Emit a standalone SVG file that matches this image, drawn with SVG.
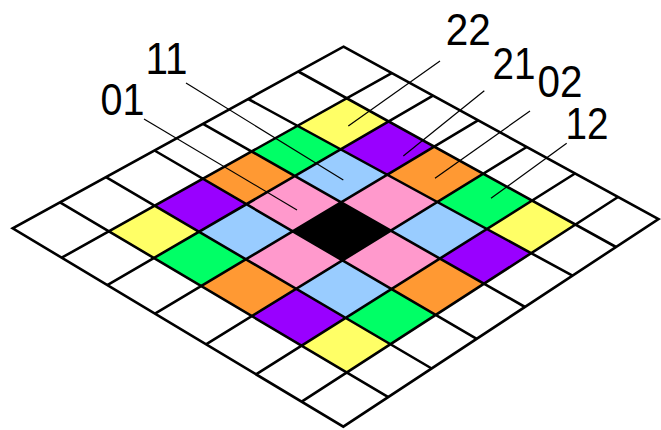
<svg xmlns="http://www.w3.org/2000/svg" width="661" height="430" viewBox="0 0 661 430">
<style>
.y{fill:#FFFF66}.g{fill:#00FF66}.p{fill:#9900FF}.o{fill:#FF9933}.b{fill:#99CCFF}.k{fill:#000000}.pk{fill:#FF99CC}
.grid{fill:none;stroke:#000;stroke-width:2.6;stroke-linejoin:miter}
.lead{fill:none;stroke:#000;stroke-width:1.2}
.lbl{font-family:"Liberation Sans",Arial,sans-serif;font-size:44px;fill:#000;text-anchor:middle}
</style>
<rect width="661" height="430" fill="#fff"/>
<g id="cells">
<polygon class="y" points="346.7,98.2 388.7,121.4 340.7,149.4 297.5,125.8"/>
<polygon class="p" points="388.7,121.4 434.1,146.5 387.2,174.7 340.7,149.4"/>
<polygon class="o" points="434.1,146.5 483.3,173.7 437.3,202.0 387.2,174.7"/>
<polygon class="g" points="483.3,173.7 532.0,200.6 486.8,229.0 437.3,202.0"/>
<polygon class="y" points="532.0,200.6 575.4,224.6 531.2,253.2 486.8,229.0"/>
<polygon class="g" points="297.5,125.8 340.7,149.4 294.8,176.0 251.6,151.5"/>
<polygon class="b" points="340.7,149.4 387.2,174.7 341.0,202.3 294.8,176.0"/>
<polygon class="pk" points="387.2,174.7 437.3,202.0 390.8,230.6 341.0,202.3"/>
<polygon class="b" points="437.3,202.0 486.8,229.0 439.9,258.6 390.8,230.6"/>
<polygon class="p" points="486.8,229.0 531.2,253.2 484.1,283.7 439.9,258.6"/>
<polygon class="o" points="251.6,151.5 294.8,176.0 246.4,204.2 202.8,178.7"/>
<polygon class="pk" points="294.8,176.0 341.0,202.3 292.7,231.3 246.4,204.2"/>
<polygon class="k" points="341.0,202.3 390.8,230.6 342.4,260.3 292.7,231.3"/>
<polygon class="pk" points="390.8,230.6 439.9,258.6 391.5,289.0 342.4,260.3"/>
<polygon class="o" points="439.9,258.6 484.1,283.7 435.8,314.9 391.5,289.0"/>
<polygon class="p" points="202.8,178.7 246.4,204.2 199.0,231.8 154.7,205.7"/>
<polygon class="b" points="246.4,204.2 292.7,231.3 245.9,259.3 199.0,231.8"/>
<polygon class="pk" points="292.7,231.3 342.4,260.3 296.1,288.8 245.9,259.3"/>
<polygon class="b" points="342.4,260.3 391.5,289.0 345.6,317.9 296.1,288.8"/>
<polygon class="g" points="391.5,289.0 435.8,314.9 390.5,344.3 345.6,317.9"/>
<polygon class="y" points="154.7,205.7 199.0,231.8 153.9,258.0 108.9,231.3"/>
<polygon class="g" points="199.0,231.8 245.9,259.3 201.1,286.0 153.9,258.0"/>
<polygon class="o" points="245.9,259.3 296.1,288.8 251.8,316.1 201.1,286.0"/>
<polygon class="p" points="296.1,288.8 345.6,317.9 301.5,345.6 251.8,316.1"/>
<polygon class="y" points="345.6,317.9 390.5,344.3 346.8,372.5 301.5,345.6"/>
</g>
<g id="grid">
<polygon class="grid" points="343.5,46.7 658.5,219 343.3,426.7 12.7,228.3"/>
<path class="grid" d="M298.3,71.5L616,247M248.3,99L572.5,275.7M203,123.8L525,307M154.5,150.5L476.7,338.8M106,177.1L431.7,368.5M60,202.3L388.3,397.1M391.7,73.1L61.7,257.7M433,95.7L107.3,285.1M478,120.3L155,313.7M526.7,147L206,344.3M575,173.5L256,374.3M618,197L301.7,401.7"/>
</g>
<g id="connectors">
<line class="lead" x1="144" y1="119" x2="297" y2="210"/>
<line class="lead" x1="186" y1="83" x2="343.3" y2="180"/>
<line class="lead" x1="440" y1="61" x2="348.3" y2="126"/>
<line class="lead" x1="484.3" y1="90.7" x2="403.3" y2="156"/>
<line class="lead" x1="530" y1="111" x2="435" y2="178.3"/>
<line class="lead" x1="566.7" y1="143.3" x2="491" y2="198.3"/>
</g>
<g id="labels">
<text id="l01" class="lbl" x="122.5" y="115" textLength="44" lengthAdjust="spacingAndGlyphs">01</text>
<text id="l11" class="lbl" x="166.5" y="74" textLength="42" lengthAdjust="spacingAndGlyphs">11</text>
<text id="l22" class="lbl" x="468.3" y="45" textLength="45" lengthAdjust="spacingAndGlyphs">22</text>
<text id="l21" class="lbl" x="514" y="79.3" textLength="43" lengthAdjust="spacingAndGlyphs">21</text>
<text id="l02" class="lbl" x="560" y="96.7" textLength="45" lengthAdjust="spacingAndGlyphs">02</text>
<text id="l12" class="lbl" x="587" y="139.3" textLength="43" lengthAdjust="spacingAndGlyphs">12</text>
</g>
</svg>
